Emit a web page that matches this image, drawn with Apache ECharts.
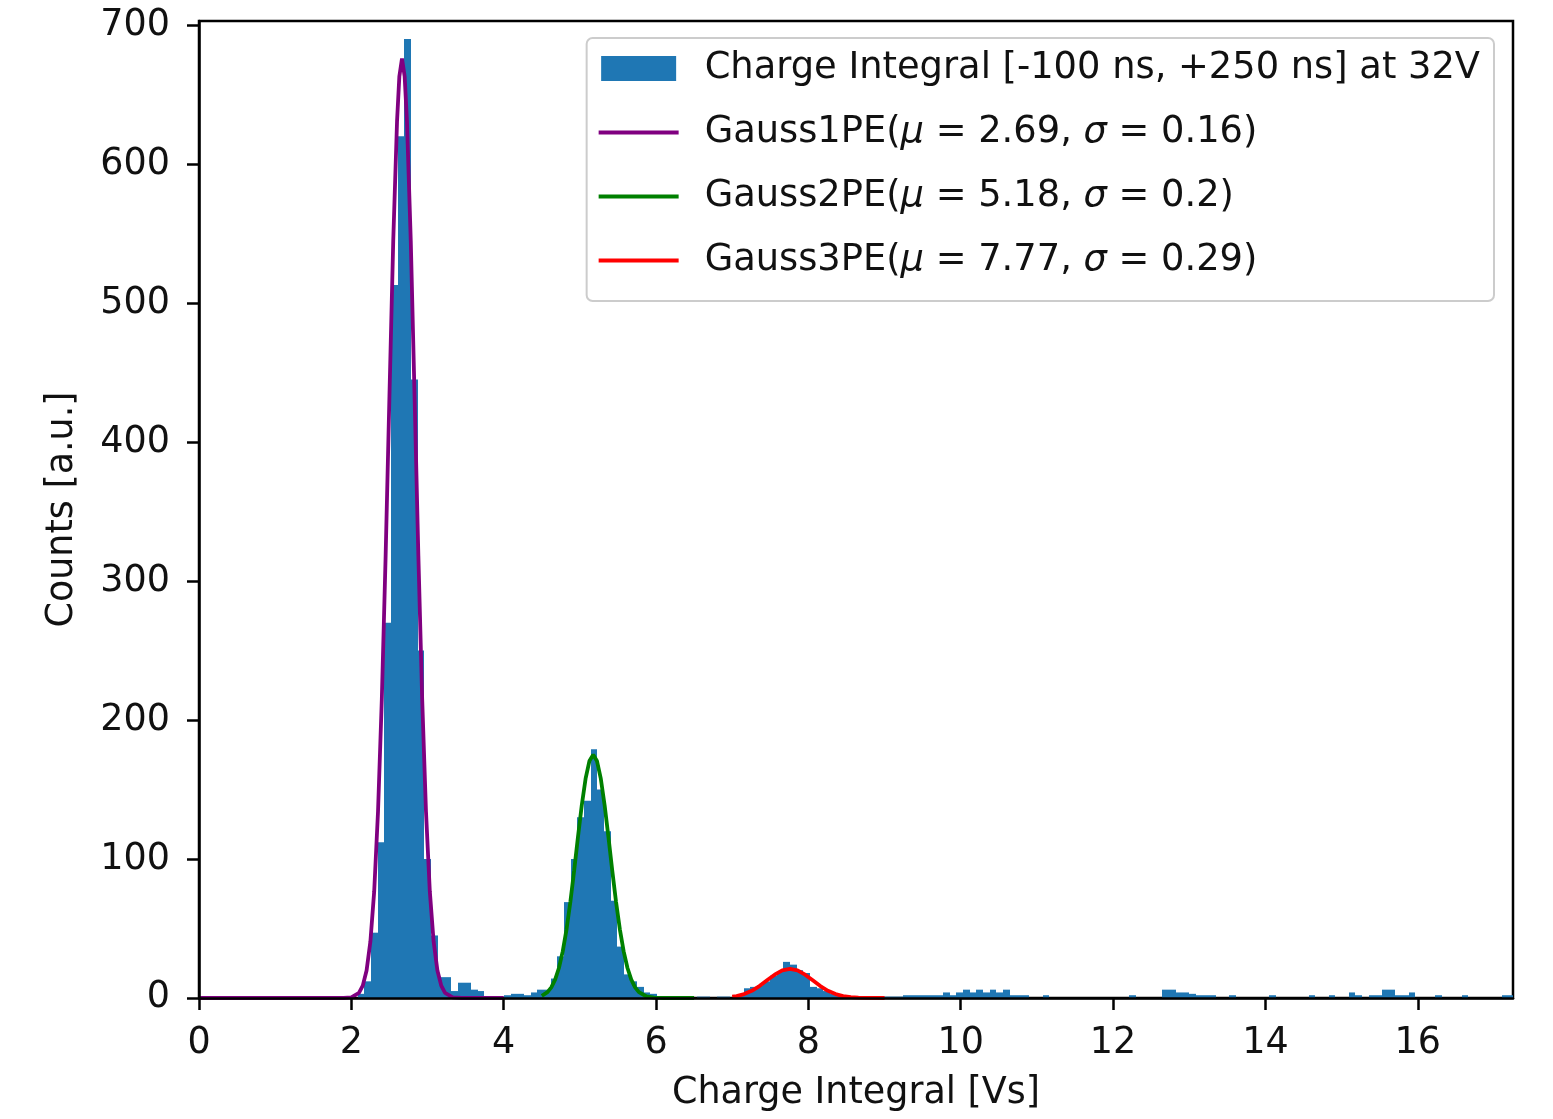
<!DOCTYPE html>
<html><head><meta charset="utf-8">
<script src="https://cdn.jsdelivr.net/npm/echarts@6/dist/echarts.min.js"></script>
<style>html,body{margin:0;padding:0;background:#fff}#c{width:1553px;height:1119px}</style>
</head><body><div id="c"></div>
<script>
// Histogram: bin layout and counts
const binStart = -0.01;
const binWidth = 0.0873;
const counts = [
  0,0,0,0,0,0,0,0,0,0,
  0,0,0,0,0,0,0,0,0,0,
  0,0,0,0,3,12,47,112,270,513,
  620,690,445,250,100,45,15,15,5,11,
  11,6,5,1,1,0,2,3,3,2,
  4,6,6,14,30,69,100,130,142,179,
  150,120,70,37,17,12,8,4,3,0,
  0,0,0,0,0,1,1,0,1,1,
  0,2,7,8,9,12,16,19,26,24,
  20,18,8,7,5,3,2,1,1,0,
  0,0,0,1,1,1,2,2,2,2,
  2,2,4,2,4,6,4,6,4,6,
  4,6,2,2,2,0,0,2,0,0,
  0,0,0,0,0,0,0,0,0,0,
  2,0,0,0,0,6,6,4,4,3,
  2,2,2,0,0,2,0,0,0,0,
  0,2,0,0,0,0,0,2,0,0,
  2,0,0,4,2,0,2,2,6,6,
  2,2,4,0,0,0,2,0,0,0,
  2,0,0,0,0,0,2,2
];

// Fit curves, points
const gauss1 = [[0,0],[1.9,0],[2.0,0.5],[2.1,3.7],[2.15,8.9],[2.2,19.8],[2.25,40.6],[2.3,76.8],[2.35,134],[2.4,215],[2.45,318],[2.5,433],[2.55,545],[2.6,631],[2.63,663],[2.665,676],[2.7,663],[2.73,631],[2.78,545],[2.83,433],[2.88,318],[2.93,215],[2.98,134],[3.03,76.8],[3.08,40.6],[3.13,19.8],[3.18,8.9],[3.23,3.7],[3.33,0.5],[3.45,0],[4.0,0]];
const gauss2 = [[4.5,1.6],[4.575,4.2],[4.625,7.7],[4.675,13.2],[4.725,21.6],[4.775,33.5],[4.825,49.4],[4.875,69.1],[4.925,91.8],[4.975,115.8],[5.025,138.7],[5.075,157.8],[5.125,170.5],[5.175,175],[5.225,170.5],[5.275,157.8],[5.325,138.7],[5.375,115.8],[5.425,91.8],[5.475,69.1],[5.525,49.4],[5.575,33.5],[5.625,21.6],[5.675,13.2],[5.725,7.7],[5.775,4.2],[5.875,1.1],[5.975,0.2],[6.1,0],[6.5,0]];
const gauss3 = [[7.0,0.9],[7.057,1.4],[7.157,2.8],[7.257,5.2],[7.357,8.6],[7.457,12.7],[7.557,16.8],[7.657,19.9],[7.757,21],[7.857,19.9],[7.957,16.8],[8.057,12.7],[8.157,8.6],[8.257,5.2],[8.357,2.8],[8.457,1.4],[8.557,0.6],[8.657,0.23],[8.757,0.08],[9.0,0]];

const xTicks = [0,2,4,6,8,10,12,14,16];
const yTicks = [0,100,200,300,400,500,600,700];
const names = [
  'Charge Integral [-100 ns, +250 ns] at 32V',
  'Gauss1PE(μ = 2.69, σ = 0.16)',
  'Gauss2PE(μ = 5.18, σ = 0.2)',
  'Gauss3PE(μ = 7.77, σ = 0.29)'
];
const colors = ['#1f77b4', '#800080', '#008000', '#ff0000'];

const FONT = 'DejaVu Sans';
const FS = 36.5;
const LFS = 36.8;
const TXT = '#111111';
const LW = 3.8;
const histData = counts.map((c, k) => [binStart + k * binWidth, binStart + (k + 1) * binWidth, c]);

const lineIcon = 'path://M0,0H80V3.8H0Z';
const chart = echarts.init(document.getElementById('c'), null, {renderer: 'canvas'});
chart.setOption({
  animation: false,
  backgroundColor: '#ffffff',
  textStyle: {fontFamily: FONT},
  grid: {left: 199, right: 40, top: 21, bottom: 121, show: true, borderColor: '#000', borderWidth: 2.5, backgroundColor: 'transparent'},
  legend: {
    orient: 'vertical', right: 59, top: 38,
    padding: [12, 14, 22, 12],
    itemWidth: 80, itemHeight: 25, itemGap: 27,
    symbolKeepAspect: true,
    backgroundColor: 'rgba(255,255,255,0.8)', borderColor: '#cccccc', borderWidth: 2, borderRadius: 6,
    textStyle: {fontFamily: FONT, fontSize: LFS, color: TXT,
      rich: {s: {width: 21, fontSize: LFS}, i: {fontStyle: 'italic', fontFamily: FONT, fontSize: LFS, color: TXT}}},
    formatter: n => '{s| }' + n.replace(/([μσ])/g, '{i|$1}'),
    data: [
      {name: names[0], icon: 'path://M0,0H75V25H0Z', itemStyle: {color: colors[0]}},
      {name: names[1], icon: lineIcon, itemStyle: {color: colors[1]}},
      {name: names[2], icon: lineIcon, itemStyle: {color: colors[2]}},
      {name: names[3], icon: lineIcon, itemStyle: {color: colors[3]}}
    ]
  },
  xAxis: {
    type: 'value', min: 0, max: 17.25, z: 10,
    name: 'Charge Integral [Vs]', nameLocation: 'middle', nameGap: 77,
    nameTextStyle: {fontFamily: FONT, fontSize: FS, color: TXT},
    axisLine: {show: true, onZero: false, lineStyle: {color: '#000', width: 2.5}},
    axisTick: {show: true, inside: false, length: 12, lineStyle: {color: '#000', width: 2.5}, customValues: xTicks},
    axisLabel: {fontFamily: FONT, fontSize: FS, color: TXT, margin: 27, customValues: xTicks},
    splitLine: {show: false}
  },
  yAxis: {
    type: 'value', min: 0, max: 703, z: 10,
    name: 'Counts [a.u.]', nameLocation: 'middle', nameGap: 118, nameRotate: 90,
    nameTextStyle: {fontFamily: FONT, fontSize: FS, color: TXT},
    axisLine: {show: true, onZero: false, lineStyle: {color: '#000', width: 2.5}},
    axisTick: {show: true, inside: false, length: 12, lineStyle: {color: '#000', width: 2.5}, customValues: yTicks},
    axisLabel: {fontFamily: FONT, fontSize: FS, color: TXT, margin: 29, customValues: yTicks},
    splitLine: {show: false}
  },
  series: [
    {
      name: names[0], type: 'custom', z: 2,
      itemStyle: {color: colors[0]},
      encode: {x: [0, 1], y: 2},
      data: histData,
      renderItem: (params, api) => {
        const p0 = api.coord([api.value(0), api.value(2)]);
        const p1 = api.coord([api.value(1), 0]);
        const x0 = Math.round(p0[0]), x1 = Math.round(p1[0]);
        const cs = params.coordSys;
        const shape = echarts.graphic.clipRectByRect(
          {x: x0, y: p0[1], width: x1 - x0, height: p1[1] - p0[1]},
          {x: cs.x, y: cs.y, width: cs.width, height: cs.height});
        if (!shape || shape.height <= 0) return null;
        return {type: 'rect', shape: shape, style: {fill: colors[0]}};
      }
    },
    {name: names[1], type: 'line', z: 3, data: gauss1, symbol: 'none', showSymbol: false, lineStyle: {color: colors[1], width: LW}, itemStyle: {color: colors[1]}},
    {name: names[2], type: 'line', z: 3, data: gauss2, symbol: 'none', showSymbol: false, lineStyle: {color: colors[2], width: LW}, itemStyle: {color: colors[2]}},
    {name: names[3], type: 'line', z: 3, data: gauss3, symbol: 'none', showSymbol: false, lineStyle: {color: colors[3], width: LW}, itemStyle: {color: colors[3]}}
  ]
});
</script>
</body></html>
